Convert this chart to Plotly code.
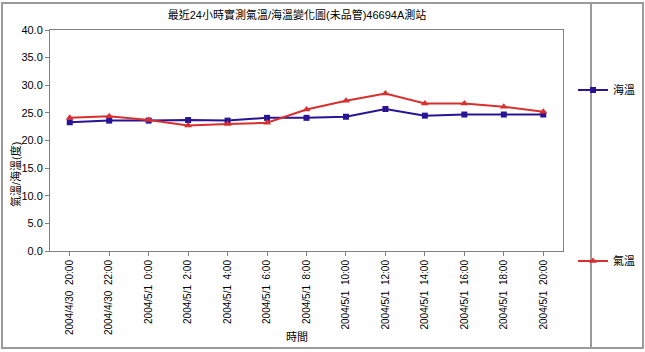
import plotly.graph_objects as go

times = ["2004/4/30  20:00", "2004/4/30  22:00", "2004/5/1  0:00", "2004/5/1  2:00",
         "2004/5/1  4:00", "2004/5/1  6:00", "2004/5/1  8:00", "2004/5/1  10:00",
         "2004/5/1  12:00", "2004/5/1  14:00", "2004/5/1  16:00", "2004/5/1  18:00",
         "2004/5/1  20:00"]
sea_temp = [23.3, 23.6, 23.6, 23.7, 23.6, 24.1, 24.1, 24.3, 25.7, 24.5, 24.7, 24.7, 24.7]
air_temp = [24.1, 24.4, 23.7, 22.7, 23.0, 23.2, 25.6, 27.2, 28.5, 26.7, 26.7, 26.1, 25.2]
y_ticks = [0, 5, 10, 15, 20, 25, 30, 35, 40]

FONT = "Liberation Sans, Arial, Noto Sans CJK TC"
BLUE = "#2A1496"
RED = "#D8302F"

W, H = 645, 352
L, R, T, B = 50, 82, 30, 101
pw, ph = W - L - R, H - T - B

def px(x):
    return (x - L) / pw

def py(y):
    return (H - B - y) / ph

fig = go.Figure()
fig.add_trace(go.Scatter(x=times, y=sea_temp, name="海溫", mode="lines+markers",
                         line=dict(color=BLUE, width=2),
                         marker=dict(symbol="square", size=6, color=BLUE),
                         legend="legend"))
fig.add_trace(go.Scatter(x=times, y=air_temp, name="氣溫", mode="lines+markers",
                         line=dict(color=RED, width=2),
                         marker=dict(symbol="triangle-up", size=7, color=RED),
                         legend="legend2"))

fig.update_layout(
    width=W, height=H,
    margin=dict(l=L, r=R, t=T, b=B, autoexpand=False),
    paper_bgcolor="white", plot_bgcolor="white",
    font=dict(family=FONT, size=11, color="black"),
    title=dict(text="最近24小時實測氣溫/海溫變化圖(未品管)46694A測站",
               x=px(297), xref="paper", xanchor="center", y=1 - 15 / H, yanchor="middle",
               font=dict(size=11, family=FONT)),
    legend=dict(xref="container", yref="container", x=573 / W, y=1 - 90 / H,
                xanchor="left", yanchor="middle",
                bgcolor="rgba(0,0,0,0)", font=dict(size=11)),
    legend2=dict(xref="container", yref="container", x=573 / W, y=1 - 261 / H,
                 xanchor="left", yanchor="middle",
                 bgcolor="rgba(0,0,0,0)", font=dict(size=11)),
    showlegend=True,
    annotations=[
        dict(text="時間", xref="paper", yref="paper", x=px(297), y=py(337),
             xanchor="center", yanchor="middle", showarrow=False,
             font=dict(size=11, family=FONT)),
        dict(text="氣溫/海溫(度)", xref="paper", yref="paper", x=px(15), y=py(175),
             xanchor="center", yanchor="middle", showarrow=False, textangle=-90,
             font=dict(size=11, family=FONT)),
    ],
)

fig.update_xaxes(
    type="category", range=[-0.5, len(times) - 0.5],
    tickangle=-90, tickfont=dict(size=10, family=FONT),
    ticks="outside", ticklen=4, tickcolor="#808080",
    showline=True, linecolor="#808080", linewidth=1, mirror=True,
    showgrid=False, zeroline=False,
)
fig.update_yaxes(
    range=[0, 40], tickvals=y_ticks, tickformat=".1f",
    tickfont=dict(size=11, family=FONT),
    ticks="outside", ticklen=4, tickcolor="#808080",
    showline=True, linecolor="#808080", linewidth=1, mirror=True,
    showgrid=False, zeroline=False,
)

# outer border and legend separator
fig.add_shape(type="rect", xref="paper", yref="paper",
              x0=px(2), x1=px(643), y0=py(348), y1=py(3),
              line=dict(color="#9a9a9a", width=2), fillcolor="rgba(0,0,0,0)")
fig.add_shape(type="line", xref="paper", yref="paper",
              x0=px(591), x1=px(591), y0=py(348), y1=py(3),
              line=dict(color="#9a9a9a", width=2))

fig.write_html("out.html")
